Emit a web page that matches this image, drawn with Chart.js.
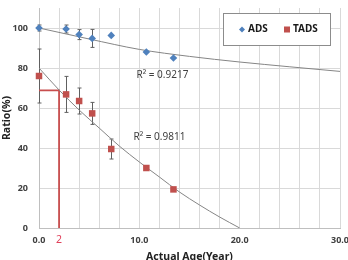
<!DOCTYPE html>
<html>
<head>
<meta charset="utf-8">
<script src="https://cdn.jsdelivr.net/npm/chart.js@4"></script>
<style>
  html, body { margin: 0; padding: 0; background: #fff; }
  #wrap { width: 348px; height: 260px; }
</style>
</head>
<body>
<div id="wrap"><canvas id="chart" width="348" height="260"></canvas></div>
<script>
  // measured points (age in years, ratio in %)
  var ageADS = [0, 2.7, 4.0, 5.3, 7.2, 10.7, 13.4];
  var ratioADS = [100, 99.5, 96.7, 94.8, 96.3, 88, 85];
  var errADS = [1.5, 2, 2.5, 4.5, 0, 0, 0];

  var ageTADS = [0, 2.7, 4.0, 5.3, 7.2, 10.7, 13.4];
  var ratioTADS = [76, 66.8, 63.5, 57.3, 39.5, 30, 19.3];
  var errTADS = [13.5, 9, 6.5, 5.5, 5, 0, 0];

  // trend lines
  var trendAgeADS = [0, 5, 10, 15, 20, 25, 30];
  var trendADS = [100, 94.5, 89.3, 85.8, 83, 80.6, 78.3];
  var trendAgeTADS = [0, 2, 4, 6, 8, 10, 12, 14, 16, 18, 20];
  var trendTADS = [80, 69, 59, 50, 41, 33, 25.5, 18, 11.5, 5.5, 0];

  // red reference line at 2 years
  var refAge = [0, 2, 2];
  var refRatio = [68.8, 68.8, 0];
  var refLabel = '2';

  var r2Text = ['R\u00b2 = 0.9217', 'R\u00b2 = 0.9811'];
  var r2Age = [12.3, 12.0];
  var r2Ratio = [76.5, 45.5];

  var xTicks = [0, 2, 4, 6, 8, 10, 12, 14, 16, 18, 20, 22, 24, 26, 28, 30];
  var yTicks = [0, 20, 40, 60, 80, 100];

  var blue = '#4F81BD';
  var red = '#C0504D';
  var FONT = "'Noto Sans', sans-serif";
  Chart.defaults.font.family = FONT;

  function pts(xs, ys) {
    return xs.map(function (x, i) { return {x: x, y: ys[i]}; });
  }

  // error bars, drawn under the markers
  var errorBars = {
    id: 'errorBars',
    beforeDatasetsDraw: function (chart) {
      var ctx = chart.ctx, xs = chart.scales.x, ys = chart.scales.y;
      var sets = [[ageADS, ratioADS, errADS], [ageTADS, ratioTADS, errTADS]];
      ctx.save();
      ctx.strokeStyle = '#606060';
      ctx.lineWidth = 1;
      sets.forEach(function (s) {
        s[0].forEach(function (a, i) {
          var e = s[2][i];
          if (!e) return;
          var px = Math.round(xs.getPixelForValue(a)) + 0.5;
          var top = ys.getPixelForValue(s[1][i] + e);
          var bot = ys.getPixelForValue(s[1][i] - e);
          ctx.beginPath();
          ctx.moveTo(px, top); ctx.lineTo(px, bot);
          ctx.moveTo(px - 2, top); ctx.lineTo(px + 2, top);
          ctx.moveTo(px - 2, bot); ctx.lineTo(px + 2, bot);
          ctx.stroke();
        });
      });
      ctx.restore();
    }
  };

  // R² labels, the red "2" and the boxed legend
  var extras = {
    id: 'extras',
    afterDraw: function (chart) {
      var ctx = chart.ctx, xs = chart.scales.x, ys = chart.scales.y;
      ctx.save();
      ctx.textAlign = 'center';
      ctx.textBaseline = 'middle';
      ctx.fillStyle = '#404040';
      ctx.font = '10px ' + FONT;
      r2Text.forEach(function (t, i) {
        ctx.fillText(t, xs.getPixelForValue(r2Age[i]), ys.getPixelForValue(r2Ratio[i]));
      });
      ctx.fillStyle = '#E0405A';
      ctx.font = '10.5px ' + FONT;
      ctx.fillText(refLabel, xs.getPixelForValue(refAge[1]), ys.bottom + 12);

      // legend
      var lx = 223, ly = 13, lw = 107, lh = 32;
      ctx.fillStyle = '#fff';
      ctx.fillRect(lx, ly, lw, lh);
      ctx.strokeStyle = '#8c8c8c';
      ctx.lineWidth = 1;
      ctx.strokeRect(lx + 0.5, ly + 0.5, lw, lh);
      var cy = ly + lh / 2 + 0.5;
      ctx.fillStyle = blue;
      ctx.beginPath();
      ctx.moveTo(242 - 3, cy); ctx.lineTo(242, cy - 3); ctx.lineTo(242 + 3, cy); ctx.lineTo(242, cy + 3);
      ctx.closePath(); ctx.fill();
      ctx.fillStyle = red;
      ctx.fillRect(284, cy - 3, 6, 6);
      ctx.fillStyle = '#1a1a1a';
      ctx.font = 'bold 10px ' + FONT;
      ctx.textAlign = 'left';
      ctx.fillText(chart.data.datasets[0].label, 248, cy);
      ctx.fillText(chart.data.datasets[1].label, 293, cy);
      ctx.restore();
    }
  };

  new Chart('chart', {
    type: 'scatter',
    data: {
      datasets: [
        {
          label: 'ADS',
          data: pts(ageADS, ratioADS),
          pointStyle: 'rectRot',
          pointRadius: 3.8,
          backgroundColor: blue,
          borderColor: blue,
          borderWidth: 0,
          clip: false
        },
        {
          label: 'TADS',
          data: pts(ageTADS, ratioTADS),
          pointStyle: 'rect',
          pointRadius: 4.6,
          backgroundColor: red,
          borderColor: red,
          borderWidth: 0,
          clip: false
        },
        {
          label: 'ADS trend',
          type: 'line',
          data: pts(trendAgeADS, trendADS),
          showLine: true,
          pointRadius: 0,
          borderColor: '#858585',
          borderWidth: 1,
          cubicInterpolationMode: 'monotone'
        },
        {
          label: 'TADS trend',
          type: 'line',
          data: pts(trendAgeTADS, trendTADS),
          showLine: true,
          pointRadius: 0,
          borderColor: '#858585',
          borderWidth: 1,
          cubicInterpolationMode: 'monotone'
        },
        {
          label: 'ref',
          type: 'line',
          data: pts(refAge, refRatio),
          showLine: true,
          pointRadius: 0,
          borderColor: '#C84E4E',
          borderWidth: 1.8,
          tension: 0,
          clip: false
        }
      ]
    },
    options: {
      responsive: false,
      animation: false,
      layout: { padding: 0 },
      plugins: {
        legend: { display: false },
        tooltip: { enabled: false }
      },
      scales: {
        x: {
          type: 'linear',
          min: 0,
          max: 30,
          afterBuildTicks: function (s) { s.ticks = xTicks.map(function (v) { return {value: v}; }); },
          afterFit: function (s) { s.height = 32; s.paddingLeft = 0; s.paddingRight = 8; },
          grid: { color: '#d9d9d9', drawTicks: false },
          border: { color: '#bfbfbf' },
          ticks: {
            autoSkip: false,
            maxRotation: 0,
            padding: 7,
            color: '#404040',
            font: { size: 9, weight: 'bold' },
            callback: function (v) { return v % 10 === 0 ? v.toFixed(1) : ''; }
          },
          title: {
            display: true,
            text: 'Actual Age(Year)',
            color: '#222',
            font: { size: 10.5, weight: 'bold' },
            padding: { top: 0, bottom: -3 }
          }
        },
        y: {
          min: 0,
          max: 110,
          afterBuildTicks: function (s) { s.ticks = yTicks.map(function (v) { return {value: v}; }); },
          afterFit: function (s) { s.width = 39; s.paddingTop = 8; s.paddingBottom = 0; },
          grid: { color: '#d9d9d9', drawTicks: false },
          border: { color: '#bfbfbf' },
          ticks: {
            padding: 11,
            color: '#404040',
            font: { size: 9, weight: 'bold' }
          },
          title: {
            display: true,
            text: 'Ratio(%)',
            color: '#222',
            font: { size: 10.5, weight: 'bold' },
            padding: { top: 1, bottom: 0 }
          }
        }
      }
    },
    plugins: [errorBars, extras]
  });
</script>
</body>
</html>
